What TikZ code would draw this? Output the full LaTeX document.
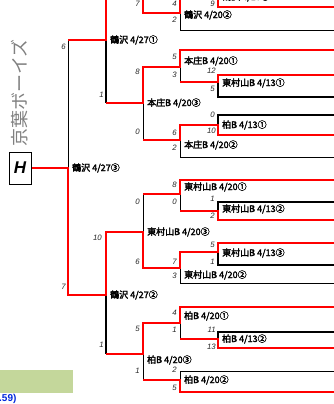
\documentclass[tikz,border=0pt]{standalone}
\usepackage{fontspec}
\setmainfont{Liberation Sans}
\newfontfamily\jp{Noto Sans CJK JP}
\newfontfamily\jpb[FakeBold=2.5]{Noto Sans CJK JP}
\begin{document}
\begin{tikzpicture}[x=1pt,y=-1pt,
  rl/.style={draw=red, line width=2.6pt, line join=miter},
  bl/.style={draw=black, line width=0.9pt},
  bk/.style={draw=black, line width=1.8pt, line join=miter},
  lab/.style={anchor=west, inner sep=0pt, font=\jpb\fontsize{9}{9}\selectfont},
  sc/.style={anchor=east, inner sep=0pt, font=\itshape\fontsize{7.8}{7.8}\selectfont, text=black!85}]
\useasboundingbox (0,0) rectangle (334,404);
\clip (0,0) rectangle (334,404);
% black lines
\draw[bl] (68,40)--(68,168);
\draw[bk] (106,40)--(106,103);
\draw[bl] (143,103)--(143,140);
\draw[bl] (180,67)--(180,82);
\draw[bl] (180,140)--(180,157)--(334,157);
\draw[bk] (218,82)--(218,97)--(334,97);
\draw[bk] (334,115)--(218,115)--(218,125);
\draw[bl] (180,13)--(180,30)--(334,30);
\draw[bk] (334,-14)--(218,-14)--(218,-3);
\draw[bl] (143,194)--(143,232);
\draw[bl] (180,194)--(180,211);
\draw[bk] (334,202)--(218,202)--(218,211);
\draw[bk] (218,252)--(218,265)--(334,265);
\draw[bl] (180,268)--(180,283)--(334,283);
\draw[bk] (106,295)--(106,354);
\draw[bl] (143,354)--(143,380);
\draw[bl] (180,323)--(180,339);
\draw[bk] (334,332)--(218,332)--(218,339);
\draw[bl] (334,371)--(180,371)--(180,380);
% red winner paths
\draw[rl] (31,168)--(68,168)--(68,295)--(106,295)--(106,232)--(143,232)--(143,268)--(180,268)--(180,252)--(218,252)--(218,243)--(334,243);
\draw[rl] (68,40)--(106,40)--(106,-15);
\draw[rl] (143,-15)--(143,13)--(180,13)--(180,-3)--(218,-3)--(218,7)--(334,7);
\draw[rl] (106,103)--(143,103)--(143,67)--(180,67)--(180,50)--(334,50);
\draw[rl] (180,82)--(218,82)--(218,75)--(334,75);
\draw[rl] (143,140)--(180,140)--(180,125)--(218,125)--(218,135)--(334,135);
\draw[rl] (143,194)--(180,194)--(180,180)--(334,180);
\draw[rl] (180,211)--(218,211)--(218,220)--(334,220);
\draw[rl] (106,354)--(143,354)--(143,323)--(180,323)--(180,307)--(334,307);
\draw[rl] (180,339)--(218,339)--(218,348)--(334,348);
\draw[rl] (143,380)--(180,380)--(180,392)--(334,392);
% labels
\node[lab] (l0) at (72,168) {鶴沢 4/27③};
\node[lab] (l1) at (110,40) {鶴沢 4/27①};
\node[lab] (l2) at (110,295) {鶴沢 4/27②};
\node[lab] (l3) at (147,103) {本庄B 4/20③};
\node[lab] (l4) at (147,232) {東村山B 4/20③};
\node[lab] (l5) at (147,360) {柏B 4/20③};
\node[lab] (l6) at (184,15) {鶴沢 4/20②};
\node[lab] (l7) at (184,61) {本庄B 4/20①};
\node[lab] (l8) at (184,145) {本庄B 4/20②};
\node[lab] (l9) at (184,187) {東村山B 4/20①};
\node[lab] (l10) at (184,275) {東村山B 4/20②};
\node[lab] (l11) at (184,316) {柏B 4/20①};
\node[lab] (l12) at (184,380) {柏B 4/20②};
\node[lab] (l13) at (222,-3) {鶴沢 4/13③};
\node[lab] (l14) at (222,83) {東村山B 4/13①};
\node[lab] (l15) at (222,125) {柏B 4/13①};
\node[lab] (l16) at (222,209) {東村山B 4/13②};
\node[lab] (l17) at (222,253) {東村山B 4/13③};
\node[lab] (l18) at (222,339) {柏B 4/13②};
% scores
\node[sc] at (66,47) {6};
\node[sc] at (66,287) {7};
\node[sc] at (104,95) {1};
\node[sc] at (102,238) {10};
\node[sc] at (104,345) {1};
\node[sc] at (140,4) {7};
\node[sc] at (140,72) {8};
\node[sc] at (140,132) {0};
\node[sc] at (140,202) {0};
\node[sc] at (140,262) {6};
\node[sc] at (140,329) {5};
\node[sc] at (140,371) {1};
\node[sc] at (177,4) {4};
\node[sc] at (177,20) {2};
\node[sc] at (177,57) {5};
\node[sc] at (177,75) {3};
\node[sc] at (177,133) {6};
\node[sc] at (177,148) {2};
\node[sc] at (177,185) {8};
\node[sc] at (177,202) {0};
\node[sc] at (177,262) {7};
\node[sc] at (177,276) {3};
\node[sc] at (177,313) {4};
\node[sc] at (177,330) {1};
\node[sc] at (177,370) {2};
\node[sc] at (177,388) {5};
\node[sc] at (215,4) {9};
\node[sc] at (216,71) {12};
\node[sc] at (215,89) {5};
\node[sc] at (215,115) {0};
\node[sc] at (216,131) {10};
\node[sc] at (215,199) {1};
\node[sc] at (215,216) {2};
\node[sc] at (215,245) {5};
\node[sc] at (215,262) {1};
\node[sc] at (216,330) {11};
\node[sc] at (216,347) {13};
% team block
\node[rotate=90, text=black!50, inner sep=0pt, font=\jp\fontsize{18}{18}\selectfont] (team) at (20,93) {京葉ボーイズ};
\node[draw=black, line width=0.9pt, minimum width=22pt, minimum height=32pt, inner sep=0pt, font=\bfseries\itshape\fontsize{17}{17}\selectfont] (hbox) at (20,168) {H};
% bottom-left
\fill[fill={rgb,255:red,196;green,215;blue,155}] (0,370) rectangle (73,393);
\node[anchor=west, inner sep=0pt, text={rgb,255:red,0;green,40;blue,220}, font=\bfseries\fontsize{10}{10}\selectfont] (note) at (-1,399) {.59)};
\end{tikzpicture}
\end{document}
